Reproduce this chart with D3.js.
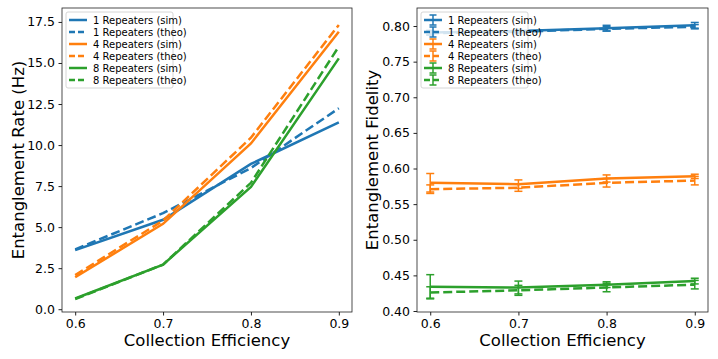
<!DOCTYPE html>
<html>
<head>
<meta charset="utf-8">
<script src="https://cdn.jsdelivr.net/npm/d3@7"></script>
<style>
  body { margin: 0; background: #fff; }
  svg { font-family: "DejaVu Sans", sans-serif; }
</style>
</head>
<body>
<svg id="chart" width="718" height="359"></svg>
<script>
const efficiency = [0.6, 0.7, 0.8, 0.9];
const repeaters = [1, 4, 8];
const colors = ["#1f77b4", "#ff7f0e", "#2ca02c"];

// entanglement rate (Hz)
const rateSim = [
  [3.6, 5.45, 8.85, 11.38],
  [1.95, 5.2, 10.1, 16.9],
  [0.65, 2.72, 7.45, 15.28]
];
const rateTheo = [
  [3.65, 5.85, 8.6, 12.24],
  [2.08, 5.4, 10.45, 17.32],
  [0.62, 2.72, 7.7, 16.0]
];

// entanglement fidelity
const fidSim = [
  [0.791, 0.793, 0.797, 0.801],
  [0.580, 0.578, 0.586, 0.589],
  [0.434, 0.433, 0.437, 0.442]
];
const fidSimErr = [
  [0.003, 0.002, 0.004, 0.004],
  [0.013, 0.006, 0.005, 0.003],
  [0.017, 0.009, 0.004, 0.004]
];
const fidTheo = [
  [0.790, 0.792, 0.796, 0.799],
  [0.571, 0.573, 0.580, 0.583],
  [0.426, 0.429, 0.433, 0.437]
];
const fidTheoErr = [
  [0.003, 0.003, 0.003, 0.003],
  [0.006, 0.005, 0.006, 0.006],
  [0.008, 0.007, 0.006, 0.006]
];

const rateTicks = [0, 2.5, 5, 7.5, 10, 12.5, 15, 17.5];
const fidTicks = [0.40, 0.45, 0.50, 0.55, 0.60, 0.65, 0.70, 0.75, 0.80];

const svg = d3.select("#chart");

function drawPanel(opts) {
  const { left, right, top, bottom, yDomain, yTicks, yFmt, yLabel, errors } = opts;
  const g = svg.append("g");

  const x = d3.scaleLinear().domain([0.585, 0.915]).range([left, right]);
  const y = d3.scaleLinear().domain(yDomain).range([bottom, top]);

  const line = d3.line().x((d, i) => x(efficiency[i])).y(d => y(d));

  repeaters.forEach((r, k) => {
    // sim (solid)
    g.append("path")
      .attr("d", line(opts.sim[k]))
      .attr("fill", "none")
      .attr("stroke", colors[k])
      .attr("stroke-width", 2.5);
    if (errors) drawErr(g, x, y, opts.sim[k], opts.simErr[k], colors[k]);
    // theo (dashed)
    g.append("path")
      .attr("d", line(opts.theo[k]))
      .attr("fill", "none")
      .attr("stroke", colors[k])
      .attr("stroke-width", 2.5)
      .attr("stroke-dasharray", "9,4");
    if (errors) drawErr(g, x, y, opts.theo[k], opts.theoErr[k], colors[k]);
  });

  // frame
  g.append("rect")
    .attr("x", left).attr("y", top)
    .attr("width", right - left).attr("height", bottom - top)
    .attr("fill", "none").attr("stroke", "#222").attr("stroke-width", 0.8);

  const xAxis = g.append("g")
    .attr("transform", `translate(0,${bottom})`)
    .call(d3.axisBottom(x).tickValues(efficiency).tickFormat(d3.format(".1f"))
      .tickSize(3.5).tickPadding(3.5));
  const yAxis = g.append("g")
    .attr("transform", `translate(${left},0)`)
    .call(d3.axisLeft(y).tickValues(yTicks).tickFormat(yFmt)
      .tickSize(3.5).tickPadding(3.5));
  [xAxis, yAxis].forEach(a => {
    a.select(".domain").remove();
    a.selectAll("text").attr("font-size", 12.5).attr("fill", "#000")
      .attr("font-family", "DejaVu Sans");
    a.selectAll("line").attr("stroke", "#222");
  });

  g.append("text")
    .attr("x", (left + right) / 2).attr("y", 346)
    .attr("text-anchor", "middle").attr("font-size", 16.5)
    .text("Collection Efficiency");
  g.append("text")
    .attr("transform", `translate(${opts.yLabelX},${(top + bottom) / 2}) rotate(-90)`)
    .attr("text-anchor", "middle").attr("font-size", 16.5)
    .text(yLabel);

  // legend
  const lg = g.append("g").attr("transform", `translate(${left + 4},${top + 4})`);
  const lw = opts.legendW;
  lg.append("rect")
    .attr("width", lw).attr("height", 76).attr("rx", 2)
    .attr("fill", "#fff").attr("fill-opacity", 0.8)
    .attr("stroke", "#ccc").attr("stroke-width", 0.8);
  repeaters.forEach((r, k) => {
    ["sim", "theo"].forEach((kind, j) => {
      const row = k * 2 + j;
      const cy = 8 + row * 12;
      lg.append("line")
        .attr("x1", 3).attr("x2", 21).attr("y1", cy).attr("y2", cy)
        .attr("stroke", colors[k]).attr("stroke-width", 2.5)
        .attr("stroke-dasharray", kind === "theo" ? "6,3" : null);
      if (errors) {
        lg.append("line").attr("x1", 12).attr("x2", 12).attr("y1", cy - 5).attr("y2", cy + 5)
          .attr("stroke", colors[k]).attr("stroke-width", 1.5);
        [cy - 5, cy + 5].forEach(c => lg.append("line")
          .attr("x1", 8.5).attr("x2", 15.5).attr("y1", c).attr("y2", c)
          .attr("stroke", colors[k]).attr("stroke-width", 1.5));
      }
      lg.append("text")
        .attr("x", 27).attr("y", cy).attr("dy", "0.35em")
        .attr("font-size", 10)
        .text(`${r} Repeaters (${kind})`);
    });
  });
}

function drawErr(g, x, y, vals, errs, color) {
  vals.forEach((v, i) => {
    const cx = x(efficiency[i]);
    g.append("line")
      .attr("x1", cx).attr("x2", cx)
      .attr("y1", y(v - errs[i])).attr("y2", y(v + errs[i]))
      .attr("stroke", color).attr("stroke-width", 1.5);
    [v - errs[i], v + errs[i]].forEach(e => g.append("line")
      .attr("x1", cx - 4).attr("x2", cx + 4)
      .attr("y1", y(e)).attr("y2", y(e))
      .attr("stroke", color).attr("stroke-width", 1.5));
  });
}

drawPanel({
  left: 62, right: 352, top: 8, bottom: 312,
  yDomain: [-0.17, 18.35], yTicks: rateTicks, yFmt: d3.format(".1f"),
  yLabel: "Entanglement Rate (Hz)", yLabelX: 24,
  sim: rateSim, theo: rateTheo, errors: false, legendW: 107
});

drawPanel({
  left: 417, right: 708, top: 8, bottom: 312,
  yDomain: [0.3986, 0.8253], yTicks: fidTicks, yFmt: d3.format(".2f"),
  yLabel: "Entanglement Fidelity", yLabelX: 378,
  sim: fidSim, simErr: fidSimErr, theo: fidTheo, theoErr: fidTheoErr,
  errors: true, legendW: 107
});
</script>
</body>
</html>
